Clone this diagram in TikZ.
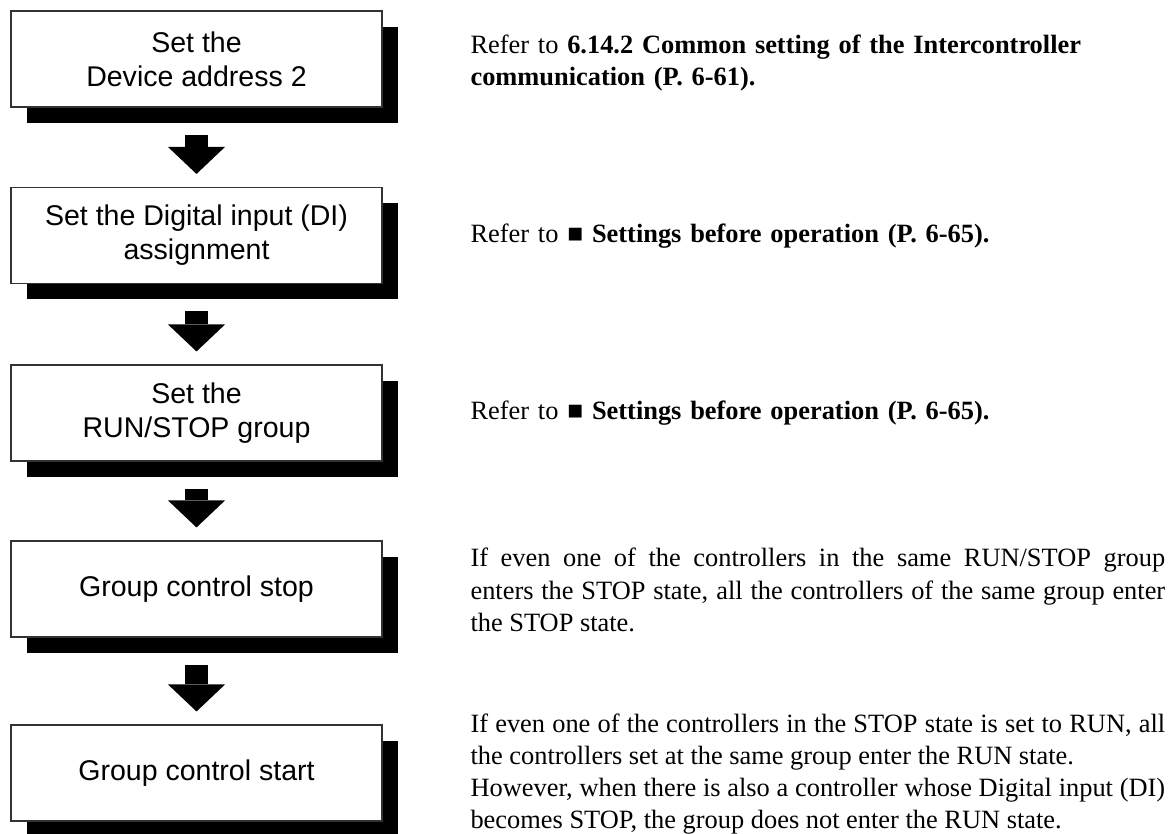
\documentclass[tikz,border=0pt]{standalone}
\usepackage{fontspec}
\setmainfont{Liberation Serif}
\newfontfamily\boxfont{Liberation Sans}
\usetikzlibrary{arrows.meta,shadows}

\begin{document}
\begin{tikzpicture}[x=.75pt,y=-.75pt,line width=.8pt,
  stepbox/.style={draw=black!80,fill=white,minimum width=278.25pt,minimum height=72pt,
    inner sep=0pt,align=center,font=\boxfont\fontsize{21.4}{25.5}\selectfont,
    drop shadow={shadow xshift=12pt,shadow yshift=-12pt,fill=black,opacity=1}},
  note/.style={anchor=west,inner sep=0pt,text width=521pt,font=\fontsize{19.8}{24.2}\selectfont},
  flowarrow/.style={line width=17.25pt,-{Triangle[width=42.75pt,length=20.25pt,line width=0pt]},
    shorten <=20.25pt,shorten >=9.75pt}]
\useasboundingbox (0,0) rectangle (1174,834);
\node[stepbox] (addr) at (196.5,59) {Set the\\Device address 2};
\node[stepbox] (diasg) at (196.5,235.5) {Set the Digital input (DI)\\assignment};
\node[stepbox] (rsgrp) at (196.5,413) {Set the\\RUN/STOP group};
\node[stepbox] (gstop) at (196.5,589) {Group control stop};
\node[stepbox] (gstart) at (196.5,773) {Group control start};
\draw[flowarrow] (addr) -- (diasg);
\draw[flowarrow] (diasg) -- (rsgrp);
\draw[flowarrow] (rsgrp) -- (gstop);
\draw[flowarrow] (gstop) -- (gstart);
\node[note,align=left] (ref1) at (470,63) {Refer to \textbf{6.14.2 Common setting of the Intercontroller}\\\textbf{communication (P. 6-61).}};
\node[note,align=left] (ref2) at (470,236) {Refer to \textbf{■ Settings before operation (P. 6-65).}};
\node[note,align=left] (ref3) at (470,413) {Refer to \textbf{■ Settings before operation (P. 6-65).}};
\node[note,align=justify] (stopnote) at (470,590) {If even one of the controllers in the same RUN/STOP group\linebreak enters the STOP state, all the controllers of the same group enter\linebreak the STOP state.};
\node[note,align=justify] (startnote) at (470,774) {If even one of the controllers in the STOP state is set to RUN, all\linebreak the controllers set at the same group enter the RUN state.\\However, when there is also a controller whose Digital input (DI)\linebreak becomes STOP, the group does not enter the RUN state.};
\end{tikzpicture}
\end{document}
